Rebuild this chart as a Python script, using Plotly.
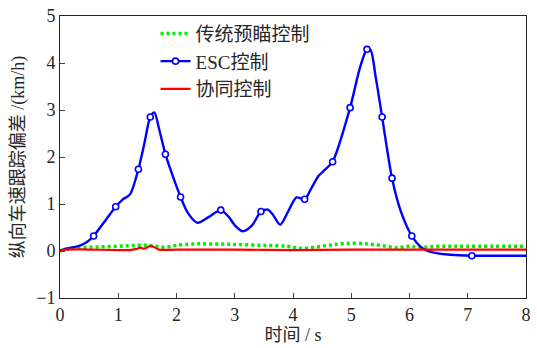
import plotly.graph_objects as go

# ESC control curve
t_esc = [0, 0.1, 0.3, 0.45, 0.577, 0.75, 0.956, 1.08, 1.2, 1.346, 1.45, 1.55, 1.62, 1.7, 1.81,
         1.92, 2.07, 2.2, 2.36, 2.55, 2.76, 2.9, 3.0, 3.14, 3.3, 3.45, 3.57, 3.65, 3.78, 3.92,
         4.06, 4.2, 4.3, 4.44, 4.55, 4.68, 4.98, 5.15, 5.27, 5.33, 5.42, 5.53, 5.70, 5.85, 6.04,
         6.2, 6.4, 6.7, 7.07, 7.5, 8.0]
v_esc = [0.0, 0.05, 0.1, 0.18, 0.32, 0.6, 0.94, 1.1, 1.2, 1.74, 2.3, 2.85, 2.95, 2.6, 2.06,
         1.65, 1.15, 0.8, 0.6, 0.72, 0.87, 0.72, 0.55, 0.42, 0.55, 0.84, 0.88, 0.78, 0.56, 0.85,
         1.14, 1.10, 1.3, 1.6, 1.73, 1.9, 3.05, 3.9, 4.29, 4.28, 3.7, 2.85, 1.55, 0.85, 0.32,
         0.08, -0.03, -0.08, -0.1, -0.1, -0.1]
esc_marker_t = [0.577, 0.956, 1.346, 1.55, 1.81, 2.07, 2.76, 3.45, 4.2, 4.68, 4.98, 5.27,
                5.53, 5.70, 6.04, 7.07]

# Traditional preview control
t_trad = [0, 0.2, 0.5, 1.0, 1.3, 1.5, 1.65, 1.8, 2.0, 2.3, 2.6, 3.0, 3.5, 3.9, 4.1, 4.3,
          4.6, 4.9, 5.3, 5.6, 5.8, 6.0, 6.2, 6.5, 7, 8]
v_trad = [0, 0.06, 0.08, 0.1, 0.12, 0.12, 0.1, 0.08, 0.12, 0.15, 0.15, 0.14, 0.12, 0.1,
          0.06, 0.07, 0.12, 0.16, 0.15, 0.1, 0.07, 0.1, 0.08, 0.1, 0.1, 0.1]

# Cooperative control
t_coop = [0, 0.1, 0.5, 1.0, 1.2, 1.3, 1.38, 1.45, 1.55, 1.62, 1.7, 2, 3, 4, 5, 6, 8]
v_coop = [0, 0.03, 0.03, 0.02, 0.02, 0.04, 0.07, 0.05, 0.11, 0.08, 0.03, 0.03, 0.03, 0.02,
          0.03, 0.03, 0.03]

x_ticks = [0, 1, 2, 3, 4, 5, 6, 7, 8]
y_ticks = [-1, 0, 1, 2, 3, 4, 5]

names = ["传统预瞄控制", "ESC控制", "协同控制"]

mk_idx = [t_esc.index(t) for t in esc_marker_t]
mk_x = [t_esc[i] for i in mk_idx]
mk_y = [v_esc[i] for i in mk_idx]

BLUE = "#0000ff"
GREEN = "#00ee00"
RED = "#ff0000"

fig = go.Figure()
fig.add_trace(go.Scatter(x=t_trad, y=v_trad, mode="lines", name=names[0],
                         line=dict(color=GREEN, width=3.5, dash="3px,3px", shape="spline")))
fig.add_trace(go.Scatter(x=t_esc, y=v_esc, mode="lines", showlegend=False,
                         line=dict(color=BLUE, width=2.4, shape="spline", smoothing=0.8)))
fig.add_trace(go.Scatter(x=mk_x, y=mk_y, mode="markers", showlegend=False,
                         marker=dict(symbol="circle", size=6, color="white",
                                     line=dict(color=BLUE, width=1.6))))
fig.add_trace(go.Scatter(x=[None], y=[None], mode="lines+markers", name=names[1],
                         line=dict(color=BLUE, width=2.2),
                         marker=dict(symbol="circle", size=6, color="white",
                                     line=dict(color=BLUE, width=1.6))))
fig.add_trace(go.Scatter(x=t_coop, y=v_coop, mode="lines", name=names[2],
                         line=dict(color=RED, width=2.2, shape="spline")))

FONT = "'Times New Roman', 'Liberation Serif', 'Noto Sans CJK SC', serif"
fig.update_layout(
    width=537, height=348,
    margin=dict(l=60, r=6, t=14, b=50),
    paper_bgcolor="white", plot_bgcolor="white",
    font=dict(family=FONT, size=18, color="#262626"),
    showlegend=True,
    legend=dict(x=0.205, y=1.005, xanchor="left", yanchor="top",
                bgcolor="rgba(0,0,0,0)", font=dict(family=FONT, size=19, color="#262626"),
                tracegroupgap=0),
    xaxis=dict(range=[0, 8], tickvals=x_ticks, ticks="inside", ticklen=5,
               showline=True, linecolor="#262626", linewidth=1, mirror=True,
               showgrid=False, zeroline=False, tickfont=dict(family=FONT, size=18),
               ticklabeloverflow="allow",
               title=dict(text="时间 / s", font=dict(family=FONT, size=18), standoff=3)),
    yaxis=dict(range=[-1, 5], tickvals=y_ticks, ticks="inside", ticklen=5,
               showline=True, linecolor="#262626", linewidth=1, mirror=True,
               showgrid=False, zeroline=False, tickfont=dict(family=FONT, size=18),
               title=dict(text="纵向车速跟踪偏差 /(km/h)", font=dict(family=FONT, size=18),
                          standoff=6)),
)
fig.write_html("out.html", config={"displayModeBar": False},
               post_script="document.body.style.margin='0';")
